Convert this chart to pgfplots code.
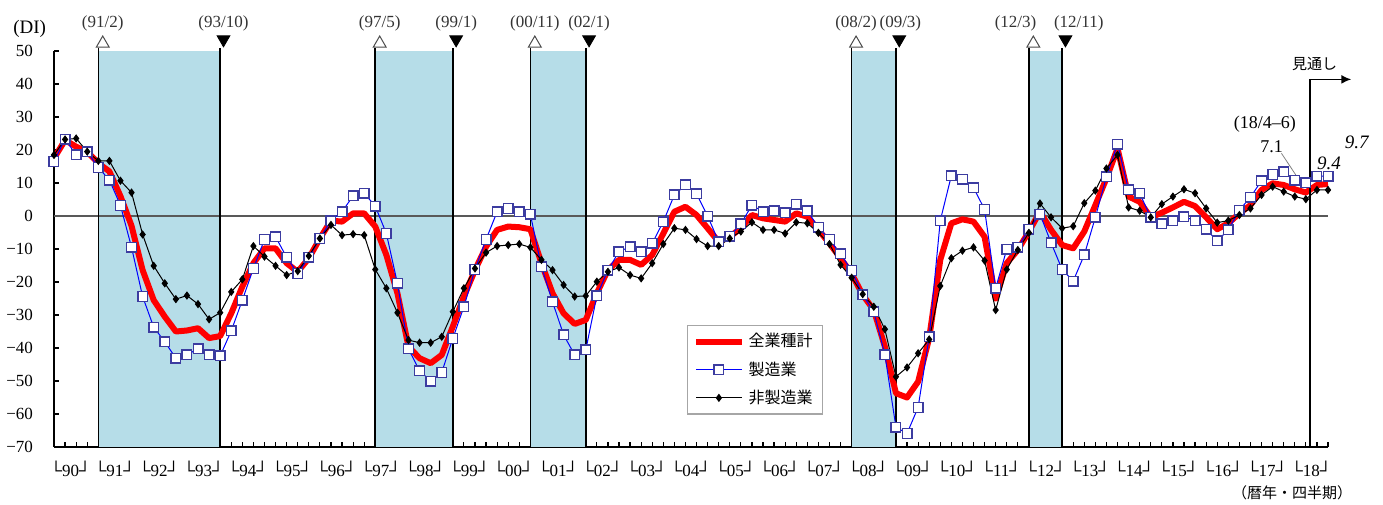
\documentclass[border=0pt]{standalone}
\usepackage{fontspec}
\setmainfont{Liberation Serif}
\newfontfamily\jp{Noto Sans CJK JP}
\usepackage{pgfplots}
\usepackage{pgfplotstable}
\pgfplotsset{compat=1.18}
\usetikzlibrary{arrows.meta}
\definecolor{band}{RGB}{182,221,232}
\definecolor{sqedge}{RGB}{60,60,160}
\newcommand{\yl}[1]{└#1┘}

\pgfplotstableread{
i all mfg non
0 17.5 16.5 18.5
1 23.0 23.3 23.2
2 21.0 18.5 23.5
3 19.5 19.5 19.5
4 16.0 14.7 16.7
5 13.5 10.9 16.7
6 6.0 3.2 10.7
7 -3.0 -9.5 7.1
8 -16.4 -24.4 -5.6
9 -25.5 -33.7 -15.1
10 -30.5 -38.1 -20.4
11 -35.0 -43.1 -25.2
12 -34.7 -42.1 -24.1
13 -34.0 -40.2 -26.7
14 -37.0 -42.1 -31.3
15 -36.4 -42.4 -29.3
16 -29.5 -34.8 -23.0
17 -21.4 -25.5 -19.2
18 -14.3 -15.9 -9.1
19 -9.8 -7.1 -12.3
20 -9.8 -6.3 -15.1
21 -14.3 -12.5 -17.9
22 -16.9 -17.4 -16.7
23 -12.8 -12.5 -12.1
24 -6.8 -6.8 -6.8
25 -1.4 -1.4 -2.7
26 -1.7 1.3 -5.8
27 0.8 6.1 -5.5
28 0.8 6.9 -5.8
29 -3.2 3.0 -16.2
30 -11.8 -5.3 -21.9
31 -23.4 -20.4 -29.3
32 -39.6 -40.3 -37.6
33 -43.1 -46.9 -38.4
34 -44.6 -50.0 -38.4
35 -42.1 -47.4 -36.6
36 -33.5 -37.1 -29.0
37 -24.4 -27.5 -21.9
38 -16.4 -16.2 -15.9
39 -9.3 -7.1 -11.1
40 -4.2 1.3 -9.1
41 -3.2 2.3 -8.8
42 -3.4 1.3 -8.5
43 -4.0 0.5 -9.5
44 -14.3 -15.4 -13.3
45 -23.4 -26.0 -16.4
46 -29.5 -36.0 -20.9
47 -32.7 -42.1 -24.4
48 -31.5 -40.6 -24.2
49 -23.4 -24.2 -19.9
50 -16.4 -16.4 -16.9
51 -13.3 -10.8 -15.6
52 -13.3 -9.3 -17.9
53 -14.8 -10.8 -18.9
54 -11.8 -8.3 -14.3
55 -5.3 -1.7 -8.5
56 1.3 6.4 -3.7
57 2.8 9.4 -4.2
58 0.3 6.7 -7.0
59 -3.7 0.0 -9.1
60 -7.8 -7.8 -9.1
61 -6.3 -6.1 -6.8
62 -3.7 -2.4 -4.7
63 0.3 3.3 -1.9
64 -0.7 1.3 -4.2
65 -1.2 1.6 -4.2
66 -1.7 1.0 -5.3
67 0.8 3.6 -1.9
68 -0.2 1.6 -2.2
69 -4.2 -3.4 -5.1
70 -8.3 -7.1 -8.5
71 -12.8 -11.5 -14.8
72 -17.5 -16.5 -18.7
73 -23.9 -23.9 -23.7
74 -28.5 -29.0 -27.5
75 -39.6 -42.0 -34.3
76 -53.7 -64.0 -48.7
77 -55.0 -65.9 -45.9
78 -50.2 -58.0 -41.6
79 -37.0 -36.6 -37.4
80 -13.3 -1.4 -21.2
81 -2.2 12.2 -12.8
82 -1.0 11.2 -10.5
83 -1.7 8.6 -9.5
84 -6.3 2.0 -13.5
85 -25.0 -21.9 -28.5
86 -14.3 -10.1 -16.2
87 -10.3 -9.5 -10.3
88 -4.7 -4.0 -5.1
89 1.3 0.6 3.8
90 -4.2 -8.1 -0.4
91 -8.8 -16.2 -3.7
92 -9.8 -19.7 -3.1
93 -4.7 -11.8 3.9
94 3.3 -0.4 7.7
95 11.4 11.9 14.4
96 20.5 21.8 18.5
97 5.9 7.9 2.6
98 4.3 6.9 1.6
99 -0.4 -0.4 -0.4
100 1.0 -2.4 3.6
101 2.6 -1.4 5.9
102 4.3 -0.2 8.1
103 3.0 -1.4 6.9
104 -0.4 -4.0 2.3
105 -4.0 -7.5 -2.0
106 -2.2 -4.2 -1.4
107 0.8 1.8 0.3
108 3.3 5.7 2.3
109 7.9 10.7 6.4
110 9.9 12.6 8.9
111 9.4 13.4 7.4
112 8.1 10.9 5.9
113 7.1 10.1 5.1
114 9.4 12.1 7.9
115 9.7 12.1 7.9
}\data

\begin{document}
\begin{tikzpicture}
\begin{axis}[
  at={(27pt,28.5pt)}, anchor=south west,
  scale only axis, width=637pt, height=198pt,
  xmin=0, xmax=115, ymin=-70, ymax=50,
  axis lines=left, axis line style={-, black, line width=0.8pt},
  clip=false,
  ytick={-70,-60,...,50},
  yticklabels={−70,−60,−50,−40,−30,−20,−10,0,10,20,30,40,50},
  yticklabel style={font=\fontsize{8.5}{9}\selectfont, xshift=-7pt},
  xtick={0,...,115}, xticklabels={},
  extra x ticks={1.5,5.5,...,113.5},
  extra x tick labels={\yl{90},\yl{91},\yl{92},\yl{93},\yl{94},\yl{95},\yl{96},\yl{97},\yl{98},\yl{99},\yl{00},\yl{01},\yl{02},\yl{03},\yl{04},\yl{05},\yl{06},\yl{07},\yl{08},\yl{09},\yl{10},\yl{11},\yl{12},\yl{13},\yl{14},\yl{15},\yl{16},\yl{17},\yl{18}},
  extra x tick style={major tick length=0pt, xticklabel style={font=\fontsize{8.5}{9}\selectfont, yshift=-3.5pt}},
  tick align=inside, major tick length=2.5pt,
  tick style={black, line width=0.6pt},
  legend style={at={(0.4965,0.3083)}, anchor=north west, draw=gray!70, line width=0.6pt,
     font=\jp\fontsize{8}{9}\selectfont, inner xsep=3pt, inner ysep=2pt, row sep=1.8pt},
  legend cell align=left,
  legend image code/.code={\draw[mark repeat=2,mark phase=2,#1] plot coordinates {(0cm,0cm) (0.4cm,0cm) (0.8cm,0cm)};},
]
% recession bands
\addplot[fill=band, draw=none, forget plot] coordinates {(4,-70)(4,50)(15,50)(15,-70)} --cycle;
\addplot[fill=band, draw=none, forget plot] coordinates {(29,-70)(29,50)(36,50)(36,-70)} --cycle;
\addplot[fill=band, draw=none, forget plot] coordinates {(43,-70)(43,50)(48,50)(48,-70)} --cycle;
\addplot[fill=band, draw=none, forget plot] coordinates {(72,-70)(72,50)(76,50)(76,-70)} --cycle;
\addplot[fill=band, draw=none, forget plot] coordinates {(88,-70)(88,50)(91,50)(91,-70)} --cycle;
% zero line
\addplot[black!65, line width=1pt, forget plot] coordinates {(0,0)(115,0)};
% vertical lines
\addplot[black, line width=0.8pt, forget plot] coordinates {(4,-70)(4,51)};
\addplot[black, line width=0.8pt, forget plot] coordinates {(15,-70)(15,51)};
\addplot[black, line width=0.8pt, forget plot] coordinates {(29,-70)(29,51)};
\addplot[black, line width=0.8pt, forget plot] coordinates {(36,-70)(36,51)};
\addplot[black, line width=0.8pt, forget plot] coordinates {(43,-70)(43,51)};
\addplot[black, line width=0.8pt, forget plot] coordinates {(48,-70)(48,51)};
\addplot[black, line width=0.8pt, forget plot] coordinates {(72,-70)(72,51)};
\addplot[black, line width=0.8pt, forget plot] coordinates {(76,-70)(76,51)};
\addplot[black, line width=0.8pt, forget plot] coordinates {(88,-70)(88,51)};
\addplot[black, line width=0.8pt, forget plot] coordinates {(91,-70)(91,51)};
% markers for peaks / troughs
\addplot[only marks, mark=triangle*, mark size=3.7pt, forget plot,
   mark options={fill=white, draw=black!70, line width=0.5pt}]
   coordinates {(4.4,52.3)(29.4,52.3)(43.4,52.3)(72.4,52.3)(88.4,52.3)};
\addplot[only marks, mark=triangle*, mark size=3.7pt, forget plot,
   mark options={fill=black, draw=black, rotate=180}]
   coordinates {(15.3,53.5)(36.3,53.5)(48.3,53.5)(76.3,53.5)(91.3,53.5)};
% series
\addplot[red, line width=3pt, line join=round, mark=none] table[x=i,y=all]{\data};
\addlegendentry{全業種計}
\addplot[blue, line width=0.5pt, mark=square*, mark size=2.4pt,
   mark options={fill=white, draw=sqedge, line width=0.7pt, solid}] table[x=i,y=mfg]{\data};
\addlegendentry{製造業}
\addplot[black, line width=0.5pt, mark=diamond*, mark size=1.7pt,
   mark options={fill=black}] table[x=i,y=non]{\data};
\addlegendentry{非製造業}
% annotations
\node[font=\fontsize{9.5}{10}\selectfont] at (axis cs:-2.2,56.8) {(DI)};
\node[font=\fontsize{8.5}{9}\selectfont, text=black!80] at (axis cs:4.4,58.5) {(91/2)};
\node[font=\fontsize{8.5}{9}\selectfont, text=black!80] at (axis cs:15.3,58.5) {(93/10)};
\node[font=\fontsize{8.5}{9}\selectfont, text=black!80] at (axis cs:29.4,58.5) {(97/5)};
\node[font=\fontsize{8.5}{9}\selectfont, text=black!80] at (axis cs:36.3,58.5) {(99/1)};
\node[font=\fontsize{8.5}{9}\selectfont, text=black!80] at (axis cs:43.4,58.5) {(00/11)};
\node[font=\fontsize{8.5}{9}\selectfont, text=black!80] at (axis cs:48.3,58.5) {(02/1)};
\node[font=\fontsize{8.5}{9}\selectfont, text=black!80] at (axis cs:72.4,58.5) {(08/2)};
\node[font=\fontsize{8.5}{9}\selectfont, text=black!80] at (axis cs:76.4,58.5) {(09/3)};
\node[font=\fontsize{8.5}{9}\selectfont, text=black!80] at (axis cs:86.8,58.5) {(12/3)};
\node[font=\fontsize{8.5}{9}\selectfont, text=black!80] at (axis cs:92.5,58.5) {(12/11)};
\draw[black, line width=0.8pt, -{Latex[length=5pt,width=4.5pt]}] (axis cs:113.4,-70) -- (axis cs:113.4,41.4) -- (axis cs:117.1,41.4);
\node[font=\jp\fontsize{7.5}{8}\selectfont] at (axis cs:113.8,46) {見通し};
\node[font=\fontsize{9}{10}\selectfont] at (axis cs:109.3,27.9) {(18/4–6)};
\node[font=\fontsize{9}{10}\selectfont] at (axis cs:109.9,20.9) {7.1};
\draw[gray, line width=0.4pt] (axis cs:110.8,19.0) -- (axis cs:112.1,12.4);
\node[font=\itshape\fontsize{9.5}{10}\selectfont] at (axis cs:115.1,16.1) {9.4};
\node[font=\itshape\fontsize{9.5}{10}\selectfont] at (axis cs:117.6,22.4) {9.7};
\node[font=\jp\fontsize{7.5}{8}\selectfont] at (axis cs:111.75,-83.9) {（暦年・四半期）};
\end{axis}
\pgfresetboundingbox
\useasboundingbox (0,0) rectangle (691.5pt,252pt);
\end{tikzpicture}
\end{document}
